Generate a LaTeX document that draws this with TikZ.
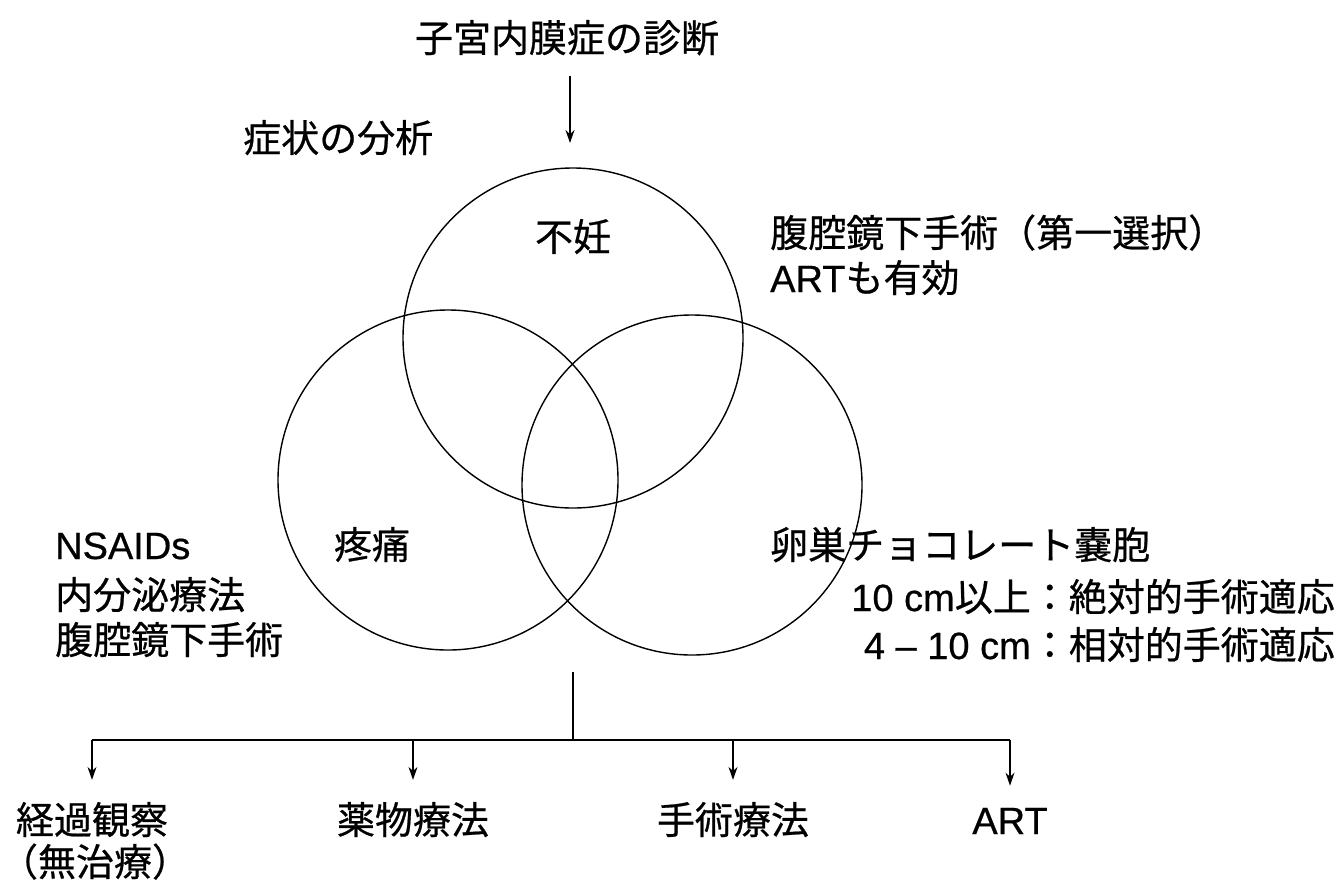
\documentclass[tikz,border=0pt]{standalone}
\usepackage{fontspec}
\setmainfont{Noto Sans CJK JP}[FakeBold=0.6]
\newfontfamily\latn{Liberation Sans}[FakeBold=0.6]
\usetikzlibrary{arrows.meta}
\begin{document}
\begin{tikzpicture}[x=1pt,y=-1pt,
  txt/.style={inner sep=0pt,anchor=base,font=\fontsize{38}{46}\selectfont},
  venn/.style={circle,draw,line width=1.4pt,minimum size=340pt,inner sep=0pt},
  ln/.style={line width=1.4pt},
  arr/.style={ln,-{Stealth[length=13pt,width=9pt]}}]
\useasboundingbox[fill=white] (0,0) rectangle (1340,881);
% Venn circles
\node[venn] (inf)  at (573,338) {};
\node[venn] (pain) at (448,480) {};
\node[venn] (cyst) at (692,485) {};
% texts
\node[txt] (title) at (567,52) {子宮内膜症の診断};
\node[txt,anchor=base west] (anal) at (243,152) {症状の分析};
\node[txt] (infl) at (573,251) {不妊};
\node[txt] (painl) at (372,559) {疼痛};
\node[txt,anchor=base west] (r1) at (770,247) {腹腔鏡下手術（第一選択）};
\node[txt,anchor=base west] (r2) at (770,292) {{\latn ART}も有効};
\node[txt,anchor=base west] (l1) at (55,559) {{\latn NSAIDs}};
\node[txt,anchor=base west] (l2) at (55,609) {内分泌療法};
\node[txt,anchor=base west] (l3) at (55,654) {腹腔鏡下手術};
\node[txt,anchor=base west] (c1) at (770,559) {卵巣チョコレート嚢胞};
\node[txt,anchor=base east] (c2) at (1335,611) {{\latn 10 cm}以上：絶対的手術適応};
\node[txt,anchor=base east] (c3) at (1335,659) {{\latn 4 – 10 cm}：相対的手術適応};
% top arrow
\coordinate (t1) at (570,143);
\draw[arr,shorten <=20pt] (title.south -| t1) -- (t1);
% bottom tree
\node[txt] (b1) at (92,834) {経過観察};
\node[txt] (b1b) at (95,876) {（無治療）};
\node[txt] (b2) at (413,834) {薬物療法};
\node[txt] (b3) at (733,834) {手術療法};
\node[txt] (b4) at (1010,834) {{\latn ART}};
\coordinate (vt) at (573,672);
\coordinate (j) at (573,740);
\draw[ln] (vt) -- (j);
\draw[ln] (b1.north |- j) -- (b4.north |- j);
\foreach \b in {b1,b2,b3,b4}{
  \draw[arr,shorten >=22pt] (\b.north |- j) -- (\b.north);
}
\end{tikzpicture}
\end{document}
